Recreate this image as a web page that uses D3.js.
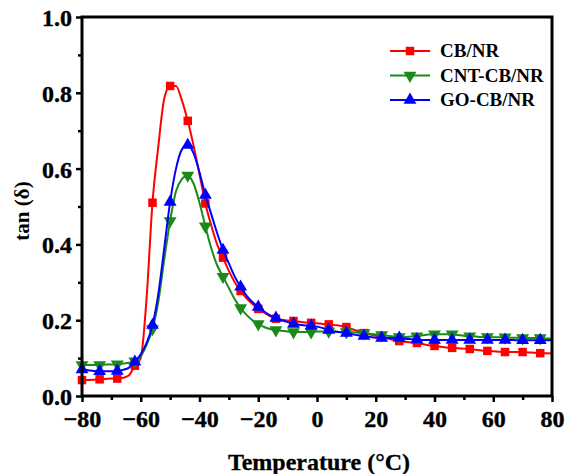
<!DOCTYPE html>
<html>
<head>
<meta charset="utf-8">
<script src="https://cdn.jsdelivr.net/npm/d3@7"></script>
<style>
  body { margin: 0; background: #fff; }
  svg text { font-family: "Liberation Serif", "Times New Roman", serif; font-weight: bold; fill: #000; }
</style>
</head>
<body>
<div class="graph-container"></div>
<script>
// temperatures (°C), every 2 degrees
var temps = d3.range(-80, 81, 2);

// tan(delta) for each sample
var cbNR = [0.042, 0.042, 0.043, 0.044, 0.045, 0.046, 0.046, 0.048, 0.055, 0.08,
    0.10, 0.26, 0.51, 0.66, 0.785, 0.818, 0.818, 0.78, 0.726, 0.66,
    0.585, 0.508, 0.45, 0.40, 0.365, 0.33, 0.30, 0.277, 0.258, 0.243,
    0.23, 0.22, 0.211, 0.204, 0.201, 0.199, 0.198, 0.196, 0.194, 0.193,
    0.192, 0.19, 0.189, 0.187, 0.185, 0.182, 0.176, 0.171, 0.166, 0.162,
    0.159, 0.156, 0.152, 0.148, 0.145, 0.143, 0.141, 0.14, 0.137, 0.134,
    0.132, 0.13, 0.128, 0.127, 0.126, 0.125, 0.124, 0.122, 0.12, 0.119,
    0.118, 0.117, 0.116, 0.116, 0.116, 0.116, 0.115, 0.114, 0.113, 0.113,
    0.112];
var cntCbNR = [0.082, 0.082, 0.082, 0.082, 0.083, 0.083, 0.084, 0.086, 0.088, 0.092,
    0.105, 0.135, 0.177, 0.25, 0.36, 0.462, 0.54, 0.572, 0.582, 0.56,
    0.51, 0.448, 0.39, 0.345, 0.315, 0.285, 0.255, 0.232, 0.214, 0.2,
    0.19, 0.182, 0.177, 0.174, 0.172, 0.17, 0.169, 0.169, 0.169, 0.169,
    0.17, 0.17, 0.171, 0.17, 0.169, 0.169, 0.168, 0.167, 0.166, 0.164,
    0.162, 0.161, 0.159, 0.157, 0.156, 0.156, 0.157, 0.158, 0.16, 0.162,
    0.163, 0.163, 0.163, 0.163, 0.161, 0.159, 0.158, 0.157, 0.156, 0.156,
    0.155, 0.155, 0.155, 0.154, 0.154, 0.153, 0.153, 0.153, 0.153, 0.152,
    0.152];
var goCbNR = [0.07, 0.068, 0.066, 0.065, 0.065, 0.065, 0.066, 0.069, 0.075, 0.09,
    0.11, 0.14, 0.187, 0.27, 0.39, 0.512, 0.60, 0.65, 0.662, 0.64,
    0.59, 0.53, 0.48, 0.43, 0.385, 0.35, 0.315, 0.288, 0.265, 0.248,
    0.235, 0.223, 0.213, 0.206, 0.2, 0.195, 0.19, 0.188, 0.186, 0.185,
    0.183, 0.179, 0.174, 0.17, 0.168, 0.166, 0.163, 0.16, 0.158, 0.156,
    0.154, 0.153, 0.153, 0.153, 0.153, 0.151, 0.15, 0.149, 0.148, 0.148,
    0.148, 0.148, 0.148, 0.148, 0.148, 0.148, 0.148, 0.148, 0.148, 0.148,
    0.148, 0.148, 0.148, 0.148, 0.147, 0.147, 0.147, 0.147, 0.147, 0.147,
    0.147];

var seriesNames = ['CB/NR', 'CNT-CB/NR', 'GO-CB/NR'];
var xTicks = [-80, -60, -40, -20, 0, 20, 40, 60, 80];
var yTicks = [0.0, 0.2, 0.4, 0.6, 0.8, 1.0];

var svgWidth = 565;
var svgHeight = 474;
var plotLeft = 82;
var plotRight = 552;
var plotTop = 17;
var plotBottom = 396;

var xScale = d3.scaleLinear().domain([-80, 80]).range([plotLeft, plotRight]);
var yScale = d3.scaleLinear().domain([0, 1]).range([plotBottom, plotTop]);

var series = [
    { name: seriesNames[0], values: cbNR, color: '#ff0000', symbol: d3.symbolSquare, size: 72, rot: 0 },
    { name: seriesNames[1], values: cntCbNR, color: '#1b8a1b', symbol: d3.symbolTriangle, size: 72, rot: 180 },
    { name: seriesNames[2], values: goCbNR, color: '#0000ff', symbol: d3.symbolTriangle, size: 72, rot: 0 }
];

var svg = d3.select('.graph-container').append('svg')
    .attr('width', svgWidth)
    .attr('height', svgHeight);

var line = d3.line()
    .x(function(d) { return xScale(d[0]); })
    .y(function(d) { return yScale(d[1]); })
    .curve(d3.curveMonotoneX);

// draw the curves, then markers every third sample (6 degrees)
series.forEach(function(s) {
    var pts = temps.map(function(t, i) { return [t, s.values[i]]; });
    svg.append('path')
        .attr('d', line(pts))
        .attr('fill', 'none')
        .attr('stroke', s.color)
        .attr('stroke-width', 2);

    svg.selectAll(null)
        .data(pts.filter(function(d, i) { return i % 3 === 0; }))
        .enter()
        .append('path')
        .attr('d', d3.symbol().type(s.symbol).size(s.size))
        .attr('fill', s.color)
        .attr('transform', function(d) {
            return 'translate(' + xScale(d[0]) + ',' + yScale(d[1]) + ') rotate(' + s.rot + ')';
        });
});

// frame around the plot
svg.append('rect')
    .attr('x', plotLeft)
    .attr('y', plotTop)
    .attr('width', plotRight - plotLeft)
    .attr('height', plotBottom - plotTop)
    .attr('fill', 'none')
    .attr('stroke', '#000')
    .attr('stroke-width', 3);

// x axis: major + minor ticks
var xAxis = d3.axisBottom(xScale).tickValues(xTicks).tickSize(6).tickSizeOuter(0).tickPadding(5)
    .tickFormat(d3.format('d'));
var gx = svg.append('g')
    .attr('transform', 'translate(0,' + plotBottom + ')')
    .call(xAxis);
var xMinor = d3.axisBottom(xScale).tickValues(d3.range(-70, 80, 20)).tickSize(4).tickSizeOuter(0).tickFormat('');
svg.append('g')
    .attr('transform', 'translate(0,' + plotBottom + ')')
    .call(xMinor);

var yAxis = d3.axisLeft(yScale).tickValues(yTicks).tickSize(6).tickSizeOuter(0).tickPadding(4)
    .tickFormat(d3.format('.1f'));
var gy = svg.append('g')
    .attr('transform', 'translate(' + plotLeft + ',0)')
    .call(yAxis);
var yMinor = d3.axisLeft(yScale).tickValues([0.1, 0.3, 0.5, 0.7, 0.9]).tickSize(4).tickSizeOuter(0).tickFormat('');
svg.append('g')
    .attr('transform', 'translate(' + plotLeft + ',0)')
    .call(yMinor);

svg.selectAll('.domain').remove();
svg.selectAll('.tick line').attr('stroke', '#000').attr('stroke-width', 2.5);
svg.selectAll('.tick text')
    .style('font-size', '24px')
    .style('font-family', '"Liberation Serif", serif')
    .style('font-weight', 'bold')
    .attr('fill', '#000')
    .attr('stroke', '#000')
    .attr('stroke-width', 0.4);
gx.selectAll('.tick text').attr('dy', '0.85em');
gy.selectAll('.tick text').attr('dy', '0.35em');

// axis titles
svg.append('text')
    .attr('x', (plotLeft + plotRight) / 2 + 2)
    .attr('y', 470)
    .style('text-anchor', 'middle')
    .style('font-size', '24px')
    .attr('stroke', '#000')
    .attr('stroke-width', 0.3)
    .text('Temperature (°C)');

svg.append('text')
    .attr('x', 0 - 211)
    .attr('y', 29)
    .style('text-anchor', 'middle')
    .style('font-size', '21px')
    .text('tan (δ)')
    .attr('transform', 'rotate(-90)');

// legend
var legend = svg.append('g');
series.forEach(function(s, i) {
    var ly = 51 + i * 24.5;
    legend.append('line')
        .attr('x1', 390).attr('x2', 430)
        .attr('y1', ly).attr('y2', ly)
        .attr('stroke', s.color)
        .attr('stroke-width', 2);
    legend.append('path')
        .attr('d', d3.symbol().type(s.symbol).size(s.size))
        .attr('fill', s.color)
        .attr('transform', 'translate(410,' + ly + ') rotate(' + s.rot + ')');
    legend.append('text')
        .attr('x', 440)
        .attr('y', ly + 6)
        .style('font-size', '19px')
        .text(s.name);
});
</script>
</body>
</html>
